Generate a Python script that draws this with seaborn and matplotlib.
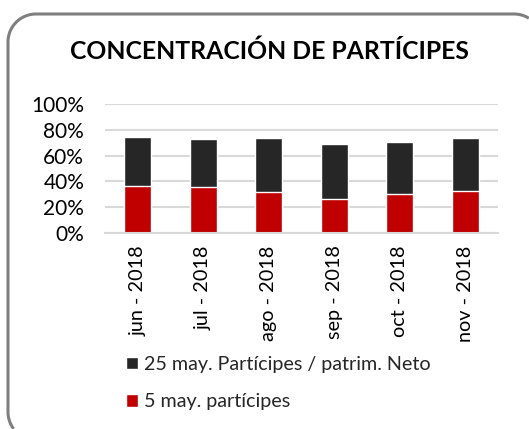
import matplotlib
matplotlib.use("Agg")
import matplotlib.pyplot as plt
from matplotlib.patches import Patch, PathPatch
from matplotlib.path import Path
from matplotlib.transforms import IdentityTransform
from matplotlib.ticker import PercentFormatter
import seaborn as sns
import pandas as pd
import numpy as np

months = ["jun - 2018", "jul - 2018", "ago - 2018", "sep - 2018", "oct - 2018", "nov - 2018"]
top25 = [0.741, 0.725, 0.733, 0.692, 0.707, 0.733]   # 25 may. Partícipes / patrim. Neto
top5 = [0.368, 0.358, 0.321, 0.262, 0.306, 0.329]    # 5 may. partícipes

label25 = "25 may. Partícipes / patrim. Neto"
label5 = "5 may. partícipes"
dark = "#262626"
red = "#c00000"

df = pd.DataFrame({"mes": months, "top25": top25, "top5": top5})

sns.set_style("white")
plt.rcParams["font.family"] = ["Lato", "DejaVu Sans"]

W, H = 529, 429
fig = plt.figure(figsize=(W / 100, H / 100), dpi=100)

# rounded frame (pixel coords, y from top), only the part inside the canvas
left, top, right, bottom, r = 8, 14, 542, 440, 28

def arc(cx, cy, a0, a1):
    t = np.radians(np.linspace(a0, a1, 30))
    return list(zip(cx + r * np.cos(t), cy - r * np.sin(t)))

pts = arc(left + r, bottom - r, 217, 180)          # bottom-left corner (visible part)
pts += arc(left + r, top + r, 180, 90)             # top-left corner
pts += arc(right - r, top + r, 90, 58)             # top-right corner (visible part)
verts = [(x, H - y) for x, y in pts]
frame = PathPatch(Path(verts), transform=IdentityTransform(), fill=False,
                  edgecolor="#7f7f7f", linewidth=2.2, clip_on=False)
fig.patches.append(frame)

ax = fig.add_axes([105 / W, (H - 233) / H, 393 / W, 129 / H])

sns.barplot(data=df, x="mes", y="top25", color=dark, width=0.41,
            saturation=1, ax=ax)
sns.barplot(data=df, x="mes", y="top5", color=red, width=0.41,
            saturation=1, ax=ax)

ax.set_ylim(0, 1)
ax.set_yticks([0, 0.2, 0.4, 0.6, 0.8, 1.0])
ax.yaxis.set_major_formatter(PercentFormatter(1.0, decimals=0))
ax.set_xlim(-0.5, len(months) - 0.5)
ax.yaxis.grid(True, color="#d9d9d9", linewidth=1.5)
ax.set_axisbelow(True)
for s in ["top", "right", "left"]:
    ax.spines[s].set_visible(False)
ax.spines["bottom"].set_color("#d9d9d9")
ax.spines["bottom"].set_linewidth(1.5)
ax.set_xlabel("")
ax.set_ylabel("")

ax.tick_params(axis="y", length=0, labelsize=15, pad=15, labelcolor="#000000")
ax.tick_params(axis="x", which="major", length=0, labelsize=14.3,
               labelrotation=90, pad=9, labelcolor="#000000")
ax.set_xticks([i - 0.5 for i in range(len(months) + 1)], minor=True)
ax.tick_params(axis="x", which="minor", length=6, width=1.5, color="#d9d9d9")

fig.text(0.51, 1 - 51 / H, "CONCENTRACIÓN DE PARTÍCIPES", ha="center",
         va="center", fontsize=17.8, fontweight="bold", color="#000000")

handles = [Patch(facecolor=dark, label=label25), Patch(facecolor=red, label=label5)]
fig.legend(handles=handles, loc="upper left",
           bbox_to_anchor=(108 / W, 1 - 338 / H), frameon=False,
           fontsize=14.2, handlelength=0.6, handleheight=0.6,
           handletextpad=0.3, labelspacing=1.05)

fig.savefig("out.png", dpi=100)
